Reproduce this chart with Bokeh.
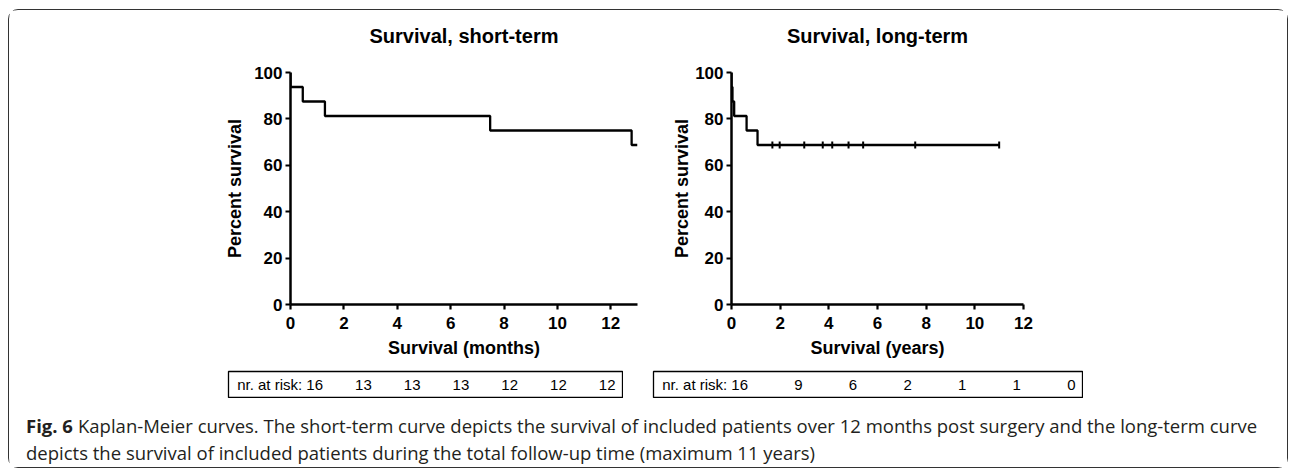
import math
from bokeh.plotting import figure
from bokeh.models import Range1d, FixedTicker, Spacer
from bokeh.layouts import column, row
from bokeh.embed import file_html
from bokeh.resources import INLINE
from bokeh.core.properties import value

# ---------------- data ----------------
st_time = [0, 0, 0.46, 1.29, 7.48, 12.78, 13.0]          # months
st_surv = [100, 93.75, 87.5, 81.25, 75, 68.75, 68.75]
lt_time = [0, 0, 0.04, 0.11, 0.62, 1.07, 11.0]           # years
lt_surv = [100, 93.75, 87.5, 81.25, 75, 68.75, 68.75]
lt_censor_time = [1.68, 1.98, 2.99, 3.75, 4.14, 4.81, 5.41, 7.55, 11.0]
lt_censor_surv = [68.75, 68.75, 68.75, 68.75, 68.75, 68.75, 68.75, 68.75, 68.75]
x_ticks_st = [0, 2, 4, 6, 8, 10, 12]
x_ticks_lt = [0, 2, 4, 6, 8, 10, 12]
y_ticks = [0, 20, 40, 60, 80, 100]
risk_st = [16, 13, 13, 13, 12, 12, 12]
risk_lt = [16, 9, 6, 2, 1, 1, 0]
risk_prefix = "nr. at risk: "
title_st = "Survival, short-term"
title_lt = "Survival, long-term"
xlabel_st = "Survival (months)"
xlabel_lt = "Survival (years)"
ylabel = "Percent survival"
caption_bold = "Fig. 6"
caption_line1 = ("Kaplan-Meier curves. The short-term curve depicts the survival of included "
                 "patients over 12 months post surgery and the long-term curve")
caption_line2 = ("depicts the survival of included patients during the total follow-up time "
                 "(maximum 11 years)")

FONT = "Liberation Sans"
CAP_FONT = "Open Sans"
TITLE_H = 50


def title_fig(text, width, xr, bl, br, ycenter):
    t = figure(width=width, height=TITLE_H, x_range=xr, y_range=Range1d(TITLE_H, 0),
               output_backend="svg", toolbar_location=None,
               x_axis_location=None, y_axis_location=None,
               min_border_left=bl, min_border_right=br,
               min_border_top=0, min_border_bottom=0)
    t.grid.visible = False
    t.outline_line_color = None
    t.text([(xr.start + xr.end) / 2], [ycenter], text=[text], text_align="center",
           text_baseline="middle", text_font=value(FONT), text_font_style="bold",
           text_font_size="20px", text_color="black")
    return t


def km_fig(xlabel, width, height, borders, xr, xticks, times, surv, ylab_standoff):
    p = figure(width=width, height=height,
               x_range=xr, y_range=Range1d(0, 100),
               output_backend="svg", toolbar_location=None,
               min_border_left=borders[0], min_border_right=borders[1],
               min_border_top=borders[2], min_border_bottom=borders[3])
    p.outline_line_color = None
    p.grid.visible = False
    p.background_fill_color = "white"
    p.border_fill_color = "white"

    xa = p.xaxis[0]
    ya = p.yaxis[0]
    xa.ticker = FixedTicker(ticks=xticks)
    ya.ticker = FixedTicker(ticks=y_ticks)
    xa.axis_label = xlabel
    ya.axis_label = ylabel
    for ax in (xa, ya):
        ax.axis_line_width = 2.5
        ax.axis_line_color = "black"
        ax.major_tick_line_width = 2.2
        ax.major_tick_line_color = "black"
        ax.major_tick_out = 5
        ax.major_tick_in = 0
        ax.minor_tick_line_color = None
        ax.major_label_text_font = FONT
        ax.major_label_text_font_style = "bold"
        ax.major_label_text_font_size = "17px"
        ax.major_label_text_color = "black"
        ax.axis_label_text_font = FONT
        ax.axis_label_text_font_style = "bold"
        ax.axis_label_text_font_size = "18px"
        ax.axis_label_text_color = "black"
    xa.major_label_standoff = 7
    xa.axis_label_standoff = 6
    ya.major_label_standoff = 3
    ya.axis_label_standoff = ylab_standoff

    p.step(times, surv, mode="after", line_width=2.3, line_color="black")
    return p


xr1 = Range1d(0, 13)
xr2 = Range1d(0, 12)
PLOT_H = 356 - TITLE_H

# left plot
h1 = title_fig(title_st, 640, xr1, 281, 12, 25.5)
p1 = km_fig(xlabel_st, 640, PLOT_H, (281, 12, 12, 62), xr1, x_ticks_st,
            st_time, st_surv, 6)
# right plot
h2 = title_fig(title_lt, 638, xr2, 82, 264, 25.5)
p2 = km_fig(xlabel_lt, 638, PLOT_H, (82, 264, 12, 62), xr2, x_ticks_lt,
            lt_time, lt_surv, 0)
p2.scatter(lt_censor_time, lt_censor_surv, marker="dash", angle=math.pi / 2,
           size=7, line_width=2, line_color="black")


def risk_table(vals, box_w, first_px, last_pad):
    w = box_w + 2
    spacing = (box_w - last_pad - first_px) / (len(vals) - 1)
    p = figure(width=w, height=28,
               x_range=Range1d(-(first_px + 1) / spacing, (w - first_px - 1) / spacing),
               y_range=Range1d(0, 1),
               output_backend="svg", toolbar_location=None,
               x_axis_location=None, y_axis_location=None,
               min_border_left=1, min_border_right=1,
               min_border_top=1, min_border_bottom=1)
    p.grid.visible = False
    p.outline_line_color = "black"
    p.outline_line_width = 1.3
    labels = [risk_prefix + str(vals[0])] + [str(v) for v in vals[1:]]
    xs = list(range(len(vals)))
    p.text(xs, [0.5] * len(vals), text=labels, text_align="right",
           text_baseline="middle", text_font=value(FONT),
           text_font_size="15px", text_color="black")
    return p


t1 = risk_table(risk_st, 394, 94, 6)
t2 = risk_table(risk_lt, 429, 94, 6)

# caption
CAP_W, CAP_H = 1278, 67
cap = figure(width=CAP_W, height=CAP_H, x_range=Range1d(0, CAP_W), y_range=Range1d(CAP_H, 0),
             output_backend="svg", toolbar_location=None,
             x_axis_location=None, y_axis_location=None, min_border=0)
cap.grid.visible = False
cap.outline_line_color = None
cap.text([16.5], [24.5], text=[caption_bold], text_font=value(CAP_FONT),
         text_font_style="bold", text_font_size="18.5px", text_color="#231f20",
         text_baseline="middle")
cap.text([68.5], [24.5], text=[caption_line1], text_font=value(CAP_FONT),
         text_font_size="18.5px", text_color="#231f20", text_baseline="middle")
cap.text([16.5], [51.5], text=[caption_line2], text_font=value(CAP_FONT),
         text_font_size="18.5px", text_color="#231f20", text_baseline="middle")

framed = column(
    row(h1, h2),
    row(p1, p2),
    Spacer(width=10, height=4),
    row(Spacer(width=218, height=28), t1, Spacer(width=29, height=28), t2),
    Spacer(width=10, height=2),
    cap,
    styles={"border": "1.5px solid #333", "border-radius": "10px"},
)

layout = column(Spacer(width=10, height=9), row(Spacer(width=8, height=10), framed))

open("out.html", "w").write(file_html(layout, INLINE))
